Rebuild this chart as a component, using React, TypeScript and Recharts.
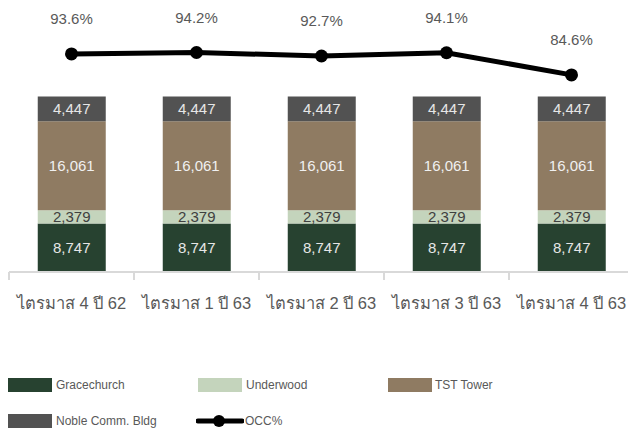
import {
  ComposedChart,
  Bar,
  Line,
  XAxis,
  YAxis,
  LabelList,
  Legend,
} from "recharts";

const quarters = [
  "ไตรมาส 4 ปี 62",
  "ไตรมาส 1 ปี 63",
  "ไตรมาส 2 ปี 63",
  "ไตรมาส 3 ปี 63",
  "ไตรมาส 4 ปี 63",
];
const gracechurch = [8747, 8747, 8747, 8747, 8747];
const underwood = [2379, 2379, 2379, 2379, 2379];
const tstTower = [16061, 16061, 16061, 16061, 16061];
const noble = [4447, 4447, 4447, 4447, 4447];
const occ = [93.6, 94.2, 92.7, 94.1, 84.6];

const data = quarters.map((q, i) => ({
  quarter: q,
  gracechurch: gracechurch[i],
  underwood: underwood[i],
  tstTower: tstTower[i],
  noble: noble[i],
  occ: occ[i],
}));

const FONT = "'Liberation Sans', Arial, sans-serif";
const TEXT = "#595959";
const AXIS = "#d9d9d9";

const fmt = (v: any) => Number(v).toLocaleString("en-US");

const QuarterTick = ({ x, y, payload, width, visibleTicksCount, index }: any) => {
  const half = width / visibleTicksCount / 2;
  return (
    <g>
      <line x1={x - half} x2={x - half} y1={y - 8} y2={y} stroke={AXIS} strokeWidth={2} />
      {index === visibleTicksCount - 1 && (
        <line x1={x + half} x2={x + half} y1={y - 8} y2={y} stroke={AXIS} strokeWidth={2} />
      )}
      <text
        x={x}
        y={y + 29}
        textAnchor="middle"
        fill={TEXT}
        fontSize={16.5}
        fontFamily={FONT}
      >
        {payload.value}
      </text>
    </g>
  );
};

// legend slots keyed by series name
const SLOTS: Record<string, { left: number; top: number; text: number }> = {
  Gracechurch: { left: 8, top: 13, text: 56 },
  Underwood: { left: 198, top: 13, text: 246 },
  "TST Tower": { left: 388, top: 13, text: 435 },
  "Noble Comm. Bldg": { left: 8, top: 49, text: 56 },
  "OCC%": { left: 196, top: 49, text: 245 },
};

const ChartLegend = ({ payload }: any) => (
  <div style={{ position: "relative", width: 628, height: 64, fontFamily: FONT }}>
    {(payload || []).map((item: any) => {
      const s = SLOTS[item.value];
      if (!s) return null;
      const isLine = item.type === "line";
      return (
        <div key={item.value}>
          {isLine ? (
            <svg
              width={48}
              height={14}
              style={{ position: "absolute", left: s.left, top: s.top }}
            >
              <line x1={2} x2={46} y1={7} y2={7} stroke="#000" strokeWidth={5} strokeLinecap="round" />
              <circle cx={23} cy={7} r={6} fill="#000" />
            </svg>
          ) : (
            <div
              style={{
                position: "absolute",
                left: s.left,
                top: s.top,
                width: 44,
                height: 14,
                background: item.color,
              }}
            />
          )}
          <span
            style={{
              position: "absolute",
              left: s.text,
              top: s.top - 1,
              fontSize: 12,
              lineHeight: "16px",
              color: TEXT,
              whiteSpace: "nowrap",
            }}
          >
            {item.value}
          </span>
        </div>
      );
    })}
  </div>
);

export default function App() {
  return (
    <div
      style={{
        position: "absolute",
        left: 0,
        top: 0,
        width: 628,
        height: 429,
        overflow: "hidden",
        background: "#fff",
      }}
    >
      <ComposedChart
        width={634}
        height={429}
        data={data}
        margin={{ top: 39, right: 0, left: 9, bottom: 0 }}
        barCategoryGap="23%"
      >
        <XAxis
          dataKey="quarter"
          axisLine={{ stroke: AXIS, strokeWidth: 2 }}
          tickLine={false}
          height={93}
          tick={<QuarterTick />}
          interval={0}
        />
        <YAxis yAxisId="area" hide domain={[0, 42000]} />
        <YAxis yAxisId="occ" orientation="right" hide domain={[0, 100]} />
        <Legend
          verticalAlign="bottom"
          height={64}
          wrapperStyle={{ left: 0, width: 628, height: 64 }}
          content={<ChartLegend />}
        />
        <Bar
          yAxisId="area"
          dataKey="gracechurch"
          name="Gracechurch"
          stackId="a"
          fill="#274230"
          isAnimationActive={false}
        >
          <LabelList dataKey="gracechurch" position="center" formatter={fmt} fill="#e6e6e6" fontSize={15} fontFamily={FONT} />
        </Bar>
        <Bar
          yAxisId="area"
          dataKey="underwood"
          name="Underwood"
          stackId="a"
          fill="#c4d4bc"
          isAnimationActive={false}
        >
          <LabelList dataKey="underwood" position="center" formatter={fmt} fill="#404040" fontSize={15} fontFamily={FONT} />
        </Bar>
        <Bar
          yAxisId="area"
          dataKey="tstTower"
          name="TST Tower"
          stackId="a"
          fill="#8f7b62"
          isAnimationActive={false}
        >
          <LabelList dataKey="tstTower" position="center" formatter={fmt} fill="#f0f0f0" fontSize={15} fontFamily={FONT} />
        </Bar>
        <Bar
          yAxisId="area"
          dataKey="noble"
          name="Noble Comm. Bldg"
          stackId="a"
          fill="#525252"
          isAnimationActive={false}
        >
          <LabelList dataKey="noble" position="center" formatter={fmt} fill="#e6e6e6" fontSize={15} fontFamily={FONT} />
        </Bar>
        <Line
          yAxisId="occ"
          dataKey="occ"
          name="OCC%"
          type="linear"
          stroke="#000"
          strokeWidth={5}
          dot={{ r: 6.5, fill: "#000", stroke: "#000", strokeWidth: 0 }}
          legendType="line"
          isAnimationActive={false}
        >
          <LabelList
            dataKey="occ"
            position="top"
            offset={30}
            formatter={(v: any) => `${Number(v).toFixed(1)}%`}
            fill={TEXT}
            fontSize={15}
            fontFamily={FONT}
          />
        </Line>
      </ComposedChart>
    </div>
  );
}
